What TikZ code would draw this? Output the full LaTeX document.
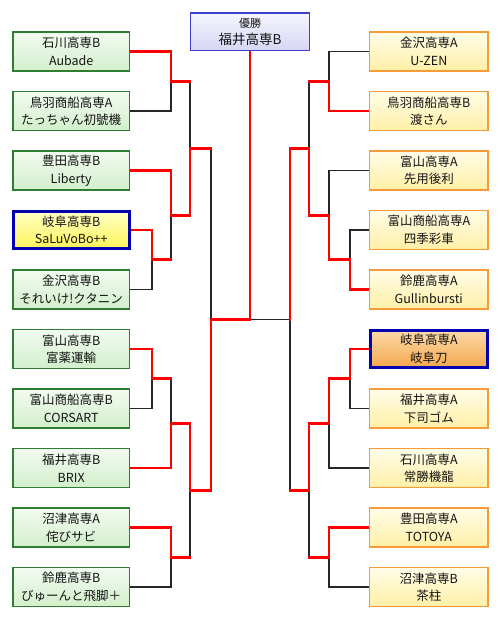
\documentclass[tikz,border=0pt]{standalone}
\usepackage{fontspec}
\setmainfont{Noto Sans CJK JP}
\usetikzlibrary{backgrounds}
\definecolor{boxgreen}{HTML}{2F7D32}
\definecolor{greentop}{HTML}{F3FBF1}
\definecolor{greenbot}{HTML}{D2EFCB}
\definecolor{boxorange}{HTML}{F79A3A}
\definecolor{yellowtop}{HTML}{FFFDE8}
\definecolor{yellowbot}{HTML}{FFEFA6}
\definecolor{hiorangetop}{HTML}{FCDAA9}
\definecolor{hiorangebot}{HTML}{F5A74C}
\definecolor{hiyellowtop}{HTML}{FFFFC4}
\definecolor{hiyellowbot}{HTML}{FFF45A}
\definecolor{hiblue}{HTML}{0000B0}
\definecolor{champblue}{HTML}{4040D0}
\definecolor{champtop}{HTML}{F5F5FF}
\definecolor{champbot}{HTML}{D6D6F3}
\tikzset{
  team/.style={draw, line width=1.3pt, minimum height=39pt, inner sep=0pt,
    align=center, text=black!92, font=\fontsize{12.5}{17.5}\selectfont},
  lteam/.style={team, minimum width=116.5pt, draw=boxgreen, top color=greentop, bottom color=greenbot},
  rteam/.style={team, minimum width=118.4pt, draw=boxorange, top color=yellowtop, bottom color=yellowbot},
  won/.style={draw=red, line width=2.9pt, line cap=rect},
  lost/.style={draw=black!85, line width=1.2pt}
}
\begin{document}
\begin{tikzpicture}[x=1pt, y=-1pt]
    \useasboundingbox (0,0) rectangle (500,619);
    % champion
    \node[draw=champblue, line width=1.3pt, minimum width=118.7pt, minimum height=37.7pt, inner sep=0pt,
          top color=champtop, bottom color=champbot, align=center, text=black!92,
          font=\fontsize{13.5}{17}\selectfont] (champ) at (250,31.75)
          {{\fontsize{11}{13}\selectfont 優勝}\\福井高専B};
    % left side
    \node[lteam] (l1) at (71.2,51.5) {石川高専B\\Aubade};
    \node[lteam] (l2) at (71.2,111) {鳥羽商船高専A\\たっちゃん初號機};
    \node[lteam] (l3) at (71.2,170.5) {豊田高専B\\Liberty};
    \node[lteam, minimum width=115.8pt, minimum height=37.3pt, line width=3pt, draw=hiblue,
          top color=hiyellowtop, bottom color=hiyellowbot] (l4) at (71.2,230) {岐阜高専B\\SaLuVoBo++};
    \node[lteam] (l5) at (71.2,289.5) {金沢高専B\\それいけ!クタニン};
    \node[lteam] (l6) at (71.2,349) {富山高専B\\富薬運輸};
    \node[lteam] (l7) at (71.2,408.5) {富山商船高専B\\CORSART};
    \node[lteam] (l8) at (71.2,468) {福井高専B\\BRIX};
    \node[lteam] (l9) at (71.2,527.5) {沼津高専A\\侘びサビ};
    \node[lteam] (l10) at (71.2,587) {鈴鹿高専B\\びゅーんと飛脚＋};
    % right side
    \node[rteam] (r1) at (428.8,51.5) {金沢高専A\\U-ZEN};
    \node[rteam] (r2) at (428.8,111) {鳥羽商船高専B\\渡さん};
    \node[rteam] (r3) at (428.8,170.5) {富山高専A\\先用後利};
    \node[rteam] (r4) at (428.8,230) {富山商船高専A\\四季彩車};
    \node[rteam] (r5) at (428.8,289.5) {鈴鹿高専A\\Gullinbursti};
    \node[rteam, minimum width=116.7pt, minimum height=37.3pt, line width=3pt, draw=hiblue,
          top color=hiorangetop, bottom color=hiorangebot] (r6) at (428.8,349) {岐阜高専A\\岐阜刀};
    \node[rteam] (r7) at (428.8,408.5) {福井高専A\\下司ゴム};
    \node[rteam] (r8) at (428.8,468) {石川高専A\\常勝機龍};
    \node[rteam] (r9) at (428.8,527.5) {豊田高専A\\TOTOYA};
    \node[rteam] (r10) at (428.8,587) {沼津高専B\\茶柱};
    % match points
    \coordinate (ml12) at (171,81.25);
    \coordinate (ml45) at (152,259.75);
    \coordinate (ml3) at (171,215.1);
    \coordinate (mlt) at (190,148.2);
    \coordinate (ml67) at (152,378.75);
    \coordinate (ml8) at (171,423.4);
    \coordinate (ml910) at (171,557.25);
    \coordinate (mlb) at (190,490.3);
    \coordinate (sl) at (211,319.25);
    \coordinate (mr12) at (329,81.25);
    \coordinate (mr45) at (350,259.75);
    \coordinate (mr3) at (329,215.1);
    \coordinate (mrt) at (309,148.2);
    \coordinate (mr67) at (350,378.75);
    \coordinate (mr8) at (329,423.4);
    \coordinate (mr910) at (329,557.25);
    \coordinate (mrb) at (309,490.3);
    \coordinate (sr) at (290,319.25);
    \coordinate (fin) at (250,319.25);
    \begin{scope}[on background layer]
        \fill[white] (0,0) rectangle (500,619);
        % losers
        \draw[lost] (l2.east) -| (ml12);
        \draw[lost] (l5.east) -| (ml45);
        \draw[lost] (ml45 -| ml3) -- (ml3);
        \draw[lost] (ml12 -| mlt) -- (mlt);
        \draw[lost] (l7.east) -| (ml67);
        \draw[lost] (ml67 -| ml8) -- (ml8);
        \draw[lost] (l10.east) -| (ml910);
        \draw[lost] (ml910 -| mlb) -- (mlb);
        \draw[lost] (mlt -| sl) -- (sl);
        \draw[lost] (r1.west) -| (mr12);
        \draw[lost] (r4.west) -| (mr45);
        \draw[lost] (r3.west) -| (mr3);
        \draw[lost] (mr12 -| mrt) -- (mrt);
        \draw[lost] (r7.west) -| (mr67);
        \draw[lost] (r8.west) -| (mr8);
        \draw[lost] (r10.west) -| (mr910);
        \draw[lost] (mr910 -| mrb) -- (mrb);
        \draw[lost] (mrb -| sr) -- (sr);
        \draw[lost] (sr) -- (fin);
        % winners
        \draw[won] (l1.east) -| (ml12);
        \draw[won] (ml12) -- (ml12 -| mlt);
        \draw[won] (l4.east) -| (ml45);
        \draw[won] (ml45) -- (ml45 -| ml3);
        \draw[won] (l3.east) -| (ml3);
        \draw[won] (ml3) -| (mlt);
        \draw[won] (mlt) -- (mlt -| sl);
        \draw[won] (l6.east) -| (ml67);
        \draw[won] (ml67) -- (ml67 -| ml8);
        \draw[won] (l8.east) -| (ml8);
        \draw[won] (ml8) -| (mlb);
        \draw[won] (l9.east) -| (ml910);
        \draw[won] (ml910) -- (ml910 -| mlb);
        \draw[won] (mlb) -| (sl);
        \draw[won] (sl) -- (fin) -- (champ.south);
        \draw[won] (r2.west) -| (mr12);
        \draw[won] (mr12) -- (mr12 -| mrt);
        \draw[won] (r5.west) -| (mr45);
        \draw[won] (mr45) -| (mr3);
        \draw[won] (mr3) -| (mrt);
        \draw[won] (mrt) -| (sr);
        \draw[won] (r6.west) -| (mr67);
        \draw[won] (mr67) -| (mr8);
        \draw[won] (mr8) -| (mrb);
        \draw[won] (r9.west) -| (mr910);
        \draw[won] (mr910) -- (mr910 -| mrb);
        \draw[won] (mrb) -- (mrb -| sr);
    \end{scope}
\end{tikzpicture}
\end{document}
